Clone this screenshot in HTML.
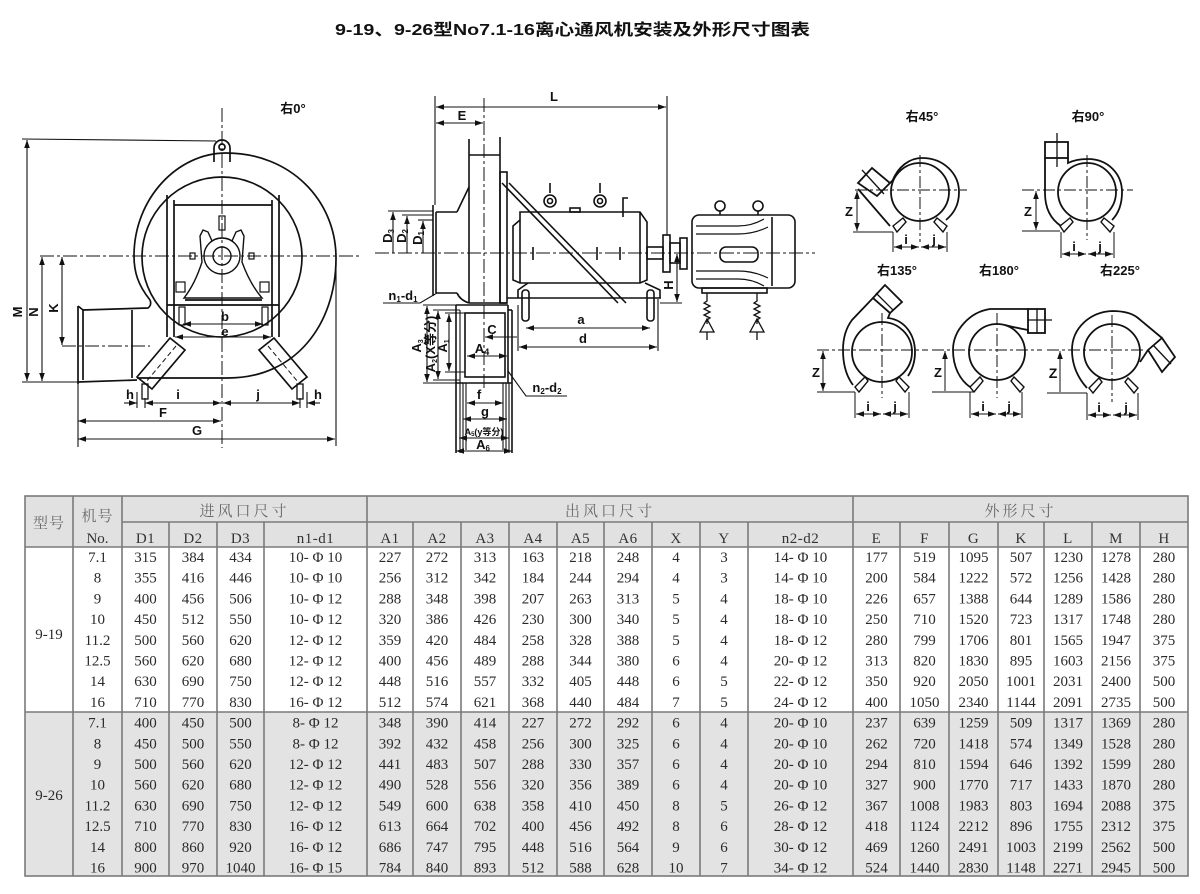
<!DOCTYPE html>
<html><head><meta charset="utf-8">
<style>
html,body{margin:0;padding:0;background:#fff;}
body{width:1200px;height:894px;overflow:hidden;position:relative;}
svg{position:absolute;left:0;top:0;}
.t{font-family:"Liberation Serif","Noto Serif CJK SC",serif;font-size:15px;fill:#2a2a2a;text-anchor:middle;}
.h{font-family:"Liberation Serif","Noto Serif CJK SC",serif;font-size:15px;fill:#333;text-anchor:middle;}
.hc{font-family:"Liberation Serif","Noto Serif CJK SC","Noto Sans CJK SC",serif;font-size:15px;fill:#6a6a6a;text-anchor:middle;}
.lb{font-family:"Liberation Sans","Noto Sans CJK SC",sans-serif;font-weight:bold;font-size:13px;fill:#111;text-anchor:middle;}
.ls{font-family:"Liberation Sans","Noto Sans CJK SC",sans-serif;font-weight:bold;font-size:9px;fill:#111;text-anchor:middle;}
</style></head>
<body>
<svg width="1200" height="894" viewBox="0 0 1200 894" xmlns="http://www.w3.org/2000/svg">
<defs>
<marker id="a" viewBox="0 0 10 10" refX="10" refY="5" markerWidth="8" markerHeight="8" markerUnits="userSpaceOnUse" orient="auto-start-reverse"><path d="M0,1.5 L10,5 L0,8.5 z" fill="#111"/></marker>
</defs>

<!-- TITLE -->
<text x="335" y="35" font-family="Liberation Sans, Noto Sans CJK SC, sans-serif" font-weight="bold" font-size="16" fill="#111" textLength="475" lengthAdjust="spacingAndGlyphs">9-19、9-26型No7.1-16离心通风机安装及外形尺寸图表</text>

<!-- ================= LEFT DRAWING ================= -->
<g stroke="#111" fill="none" stroke-width="1.7">
  <!-- outer scroll -->
  <path d="M150,300 C138,285 134,272 134,256 C134,198 178,153 226,153 C290,153 336,200 336,258 C336,325 295,378 228,378 L137,378"/>
  <!-- inner circle -->
  <circle cx="222" cy="257" r="80"/>
  <!-- outlet -->
  <path d="M83,310 L148,308 Q152,305 150,300"/>
  <line x1="83" y1="310" x2="83" y2="380"/>
  <line x1="78" y1="306" x2="78" y2="384"/>
  <line x1="78" y1="306" x2="83" y2="310"/>
  <line x1="132" y1="310" x2="132" y2="378"/>
  <line x1="78" y1="382" x2="137" y2="380"/>
  <!-- lug -->
  <path d="M214,162 L214,148 A8,8 0 0 1 230,148 L230,162"/>
  <circle cx="222" cy="147" r="3"/>
  <!-- frame -->
  <line x1="167" y1="195" x2="167" y2="337"/>
  <line x1="174" y1="200" x2="174" y2="337"/>
  <line x1="272" y1="200" x2="272" y2="337"/>
  <line x1="279" y1="195" x2="279" y2="337"/>
  <line x1="174" y1="205" x2="272" y2="205"/>
  <line x1="167" y1="305" x2="279" y2="305"/>
  <line x1="185" y1="300" x2="262" y2="300"/>
  <!-- pedestal -->
  <path d="M200,236 L203,230 L208,232 L212,241 A18,18 0 0 1 232,241 L236,232 L241,230 L244,236 L242,262 Q250,284 262,298 L184,298 Q195,284 202,262 Z" stroke-width="1.4"/>
  <circle cx="222" cy="256" r="18" stroke-width="1.4"/>
  <circle cx="222" cy="256" r="9" stroke-width="1.4"/>
  <rect x="219" y="216" width="6" height="14" stroke-width="1.2"/>
  <rect x="190" y="253" width="5" height="6" stroke-width="1.2"/>
  <rect x="249" y="253" width="5" height="6" stroke-width="1.2"/>
  <rect x="176" y="282" width="9" height="10" stroke-width="1.2"/>
  <rect x="260" y="282" width="9" height="10" stroke-width="1.2"/>
  <rect x="179" y="307" width="6" height="18" stroke-width="1.2"/>
  <rect x="262" y="307" width="6" height="18" stroke-width="1.2"/>
  <!-- feet -->
  <path d="M170,338 L185,350 L152,389 L137,377 Z"/>
  <path d="M274,338 L259,350 L292,389 L307,377 Z"/>
  <line x1="176" y1="346" x2="146" y2="382" stroke-width="1" stroke-dasharray="5,3"/>
  <line x1="268" y1="346" x2="298" y2="382" stroke-width="1" stroke-dasharray="5,3"/>
  <rect x="142" y="384" width="6" height="15" stroke-width="1.3"/>
  <rect x="297" y="384" width="6" height="15" stroke-width="1.3"/>
</g>
<!-- left centre lines -->
<g stroke="#111" stroke-width="1" fill="none" stroke-dasharray="14,3,3,3">
  <line x1="222" y1="108" x2="222" y2="448"/>
  <line x1="40" y1="256" x2="362" y2="256"/>
  <line x1="62" y1="346" x2="150" y2="346"/>
</g>
<!-- left dimensions -->
<g stroke="#111" stroke-width="1.1" fill="none">
  <line x1="22" y1="139" x2="216" y2="141"/>
  <line x1="22" y1="382" x2="80" y2="382"/>
  <line x1="27" y1="140" x2="27" y2="381" marker-start="url(#a)" marker-end="url(#a)"/>
  <line x1="42" y1="257" x2="42" y2="381" marker-start="url(#a)" marker-end="url(#a)"/>
  <line x1="62" y1="257" x2="62" y2="345" marker-start="url(#a)" marker-end="url(#a)"/>
  <line x1="78" y1="384" x2="78" y2="447"/>
  <line x1="336" y1="258" x2="336" y2="446"/>
  <line x1="137" y1="392" x2="137" y2="408"/>
  <line x1="145" y1="398" x2="145" y2="408"/>
  <line x1="300" y1="398" x2="300" y2="408"/>
  <line x1="307" y1="392" x2="307" y2="408"/>
  <line x1="124" y1="403" x2="137" y2="403" marker-end="url(#a)"/>
  <line x1="145" y1="403" x2="221" y2="403" marker-start="url(#a)" marker-end="url(#a)"/>
  <line x1="223" y1="403" x2="300" y2="403" marker-start="url(#a)" marker-end="url(#a)"/>
  <line x1="320" y1="403" x2="307" y2="403" marker-end="url(#a)"/>
  <line x1="78" y1="421" x2="221" y2="421" marker-start="url(#a)" marker-end="url(#a)"/>
  <line x1="78" y1="439" x2="335" y2="439" marker-start="url(#a)" marker-end="url(#a)"/>
  <line x1="183" y1="324" x2="263" y2="324" marker-start="url(#a)" marker-end="url(#a)"/>
  <line x1="175" y1="337" x2="271" y2="337" marker-start="url(#a)" marker-end="url(#a)"/>
</g>
<text class="lb" x="293" y="113">右0°</text>
<text class="lb" transform="translate(22,312) rotate(-90)" font-size="11">M</text>
<text class="lb" transform="translate(38,312) rotate(-90)" font-size="11">N</text>
<text class="lb" transform="translate(58,308) rotate(-90)" font-size="11">K</text>
<text class="lb" x="130" y="399">h</text>
<text class="lb" x="178" y="399">i</text>
<text class="lb" x="258" y="399">j</text>
<text class="lb" x="318" y="399">h</text>
<text class="lb" x="163" y="417">F</text>
<text class="lb" x="197" y="435">G</text>
<text class="lb" x="225" y="321" font-size="12">b</text>
<text class="lb" x="225" y="336" font-size="11">e</text>

<!-- ================= MIDDLE DRAWING ================= -->
<g stroke="#111" fill="none" stroke-width="1.6">
  <!-- inlet flange / inlet -->
  <line x1="433" y1="205" x2="433" y2="296"/>
  <line x1="436" y1="212" x2="436" y2="293"/>
  <line x1="436" y1="212" x2="457" y2="212"/>
  <line x1="436" y1="293" x2="457" y2="293"/>
  <path d="M457,212 L469,187"/>
  <path d="M457,293 Q460,300 469,303"/>
  <!-- casing -->
  <line x1="469" y1="139" x2="469" y2="303"/>
  <line x1="500" y1="137" x2="500" y2="303"/>
  <line x1="469" y1="155" x2="500" y2="155"/>
  <rect x="500" y="172" width="7" height="131"/>
  <line x1="469" y1="303" x2="507" y2="303"/>
  <!-- brace -->
  <line x1="502" y1="183" x2="618" y2="303"/>
  <line x1="509" y1="183" x2="626" y2="303"/>
  <!-- bearing box -->
  <path d="M513,226 L520,220 L520,212 L640,212 L647,222 L647,280 L640,283 L520,283 L513,280 Z"/>
  <line x1="520" y1="220" x2="520" y2="283"/>
  <line x1="640" y1="212" x2="640" y2="283"/>
  <rect x="570" y="208" width="10" height="4"/>
  <circle cx="550" cy="201" r="6"/>
  <circle cx="600" cy="201" r="6"/>
  <circle cx="550" cy="201" r="2.5"/>
  <circle cx="600" cy="201" r="2.5"/>
  <line x1="550" y1="183" x2="550" y2="193"/>
  <line x1="600" y1="183" x2="600" y2="193"/>
  <path d="M623,217 L623,198 L628,198"/>
  <path d="M518,298 L518,290 L528,283 M660,298 L660,290 L645,283"/>
  <line x1="507" y1="298" x2="661" y2="298"/>
  <rect x="522" y="290" width="7" height="31" rx="3"/>
  <rect x="647" y="290" width="7" height="31" rx="3"/>
  <!-- shaft & coupling -->
  <rect x="647" y="247" width="16" height="12"/>
  <rect x="663" y="235" width="7" height="37"/>
  <rect x="670" y="243" width="10" height="20"/>
  <rect x="680" y="238" width="7" height="31"/>
  <line x1="533" y1="247" x2="533" y2="260"/>
  <line x1="597" y1="247" x2="597" y2="260"/>
  <line x1="620" y1="247" x2="620" y2="260"/>
  <!-- motor -->
  <rect x="692" y="215" width="103" height="73" rx="7"/>
  <line x1="772" y1="217" x2="772" y2="286"/>
  <rect x="720" y="247" width="38" height="15" rx="6"/>
  <path d="M696,226 H738 Q752,226 764,219 M696,234 H738 Q754,234 768,227 M696,279 H738 Q752,279 764,286 M696,271 H738 Q754,271 768,278" stroke-width="1.2"/>
  <circle cx="720" cy="206" r="5"/>
  <circle cx="758" cy="206" r="5"/>
  <line x1="720" y1="211" x2="720" y2="215"/>
  <line x1="758" y1="211" x2="758" y2="215"/>
  <rect x="702" y="288" width="65" height="5"/>
  <path d="M707,293 v8 l-3,2 l6,3 l-6,3 l6,3 l-6,3 l6,3 l-3,2 v4 M700,332 L707,319 L714,332 Z M707,332 v8" stroke-width="1.3"/>
  <path d="M757,293 v8 l-3,2 l6,3 l-6,3 l6,3 l-6,3 l6,3 l-3,2 v4 M750,332 L757,319 L764,332 Z M757,332 v8" stroke-width="1.3"/>
  <!-- outlet box -->
  <line x1="456" y1="305" x2="508" y2="305"/>
  <rect x="465" y="313" width="40" height="64"/>
  <line x1="456" y1="383" x2="512" y2="383"/>
  <line x1="456" y1="305" x2="456" y2="453"/>
  <line x1="460" y1="310" x2="460" y2="453" stroke-width="1.1"/>
  <line x1="463" y1="383" x2="463" y2="453" stroke-width="1.1"/>
  <line x1="466" y1="383" x2="466" y2="450" stroke-width="1.1"/>
  <line x1="508" y1="305" x2="508" y2="383"/>
  <line x1="503" y1="383" x2="503" y2="450" stroke-width="1.1"/>
  <line x1="506" y1="383" x2="506" y2="453" stroke-width="1.1"/>
  <line x1="509" y1="383" x2="509" y2="453" stroke-width="1.1"/>
  <line x1="512" y1="310" x2="512" y2="453"/>
  <line x1="508" y1="310" x2="512" y2="310"/>
</g>
<g stroke="#111" stroke-width="1" fill="none" stroke-dasharray="14,3,3,3">
  <line x1="375" y1="253" x2="815" y2="253"/>
  <line x1="484" y1="98" x2="484" y2="390"/>
</g>
<g stroke="#111" stroke-width="1.1" fill="none">
  <line x1="435" y1="96" x2="435" y2="205"/>
  <line x1="667" y1="96" x2="667" y2="235"/>
  <line x1="436" y1="107" x2="666" y2="107" marker-start="url(#a)" marker-end="url(#a)"/>
  <line x1="436" y1="123" x2="483" y2="123" marker-start="url(#a)" marker-end="url(#a)"/>
  <line x1="388" y1="211" x2="433" y2="211"/>
  <line x1="402" y1="215" x2="433" y2="215"/>
  <line x1="418" y1="220" x2="433" y2="220"/>
  <line x1="393" y1="212" x2="393" y2="253" marker-start="url(#a)"/>
  <line x1="407" y1="216" x2="407" y2="253" marker-start="url(#a)"/>
  <line x1="423" y1="221" x2="423" y2="253" marker-start="url(#a)"/>
  <path d="M437,293 L420,303 L383,303"/>
  <line x1="660" y1="303" x2="682" y2="303"/>
  <line x1="677" y1="254" x2="677" y2="302" marker-start="url(#a)" marker-end="url(#a)"/>
  <line x1="518" y1="305" x2="518" y2="351"/>
  <line x1="658" y1="299" x2="658" y2="351"/>
  <line x1="526" y1="328" x2="650" y2="328" marker-start="url(#a)" marker-end="url(#a)"/>
  <line x1="519" y1="347" x2="657" y2="347" marker-start="url(#a)" marker-end="url(#a)"/>
  <line x1="485" y1="337" x2="517" y2="337" marker-start="url(#a)"/>
  <line x1="423" y1="305" x2="456" y2="305"/>
  <line x1="423" y1="383" x2="456" y2="383"/>
  <line x1="433" y1="310" x2="460" y2="310"/>
  <line x1="433" y1="380" x2="460" y2="380"/>
  <line x1="445" y1="313" x2="465" y2="313"/>
  <line x1="445" y1="372" x2="465" y2="372"/>
  <line x1="427" y1="306" x2="427" y2="382" marker-start="url(#a)" marker-end="url(#a)"/>
  <line x1="438" y1="311" x2="438" y2="379" marker-start="url(#a)" marker-end="url(#a)"/>
  <line x1="449" y1="314" x2="449" y2="371" marker-start="url(#a)" marker-end="url(#a)"/>
  <line x1="467" y1="356" x2="507" y2="356" marker-start="url(#a)" marker-end="url(#a)"/>
  <path d="M508,371 L526,396 L567,396"/>
  <line x1="467" y1="403" x2="503" y2="403" marker-start="url(#a)" marker-end="url(#a)"/>
  <line x1="463" y1="419" x2="507" y2="419" marker-start="url(#a)" marker-end="url(#a)"/>
  <line x1="459" y1="438" x2="509" y2="438" marker-start="url(#a)" marker-end="url(#a)"/>
  <line x1="456" y1="451" x2="512" y2="451" marker-start="url(#a)" marker-end="url(#a)"/>
</g>
<text class="lb" x="554" y="101">L</text>
<text class="lb" x="462" y="120">E</text>
<text class="lb" transform="translate(392,236) rotate(-90)" font-size="11">D<tspan font-size="8" dy="2">3</tspan></text>
<text class="lb" transform="translate(406,236) rotate(-90)" font-size="11">D<tspan font-size="8" dy="2">2</tspan></text>
<text class="lb" transform="translate(422,238) rotate(-90)" font-size="11">D<tspan font-size="8" dy="2">1</tspan></text>
<text class="lb" x="403" y="300" font-size="12">n<tspan font-size="8" dy="2">1</tspan><tspan dy="-2">-d</tspan><tspan font-size="8" dy="2">1</tspan></text>
<text class="lb" transform="translate(673,285) rotate(-90)" font-size="11">H</text>
<text class="lb" x="581" y="324">a</text>
<text class="lb" x="583" y="343">d</text>
<text class="lb" x="492" y="334">C</text>
<text class="lb" x="482" y="353">A<tspan font-size="9" dy="2">4</tspan></text>
<text class="lb" x="547" y="392" font-size="12">n<tspan font-size="8" dy="2">2</tspan><tspan dy="-2">-d</tspan><tspan font-size="8" dy="2">2</tspan></text>
<text class="lb" transform="translate(421,346) rotate(-90)" font-size="10">A<tspan font-size="7" dy="2">3</tspan></text>
<text class="lb" transform="translate(435,344) rotate(-90)" font-size="9">A<tspan font-size="7" dy="2">2</tspan><tspan dy="-2">(X等分)</tspan></text>
<text class="lb" transform="translate(447,346) rotate(-90)" font-size="10">A<tspan font-size="7" dy="2">1</tspan></text>
<text class="lb" x="479" y="399">f</text>
<text class="lb" x="485" y="416">g</text>
<text class="ls" x="484" y="435">A<tspan font-size="6" dy="1">5</tspan><tspan dy="-1">(y等分)</tspan></text>
<text class="lb" x="483" y="449" font-size="12">A<tspan font-size="8" dy="2">6</tspan></text>

<!-- ================= RIGHT SMALL DRAWINGS ================= -->
<g stroke="#111" fill="none" stroke-width="1.8">
  <!-- 45 -->
  <circle cx="920" cy="192" r="29"/>
  <path d="M892,182 C898,166 910,158 922,158 C944,158 959,174 959,192 C959,206 953,214 946,220"/>
  <path d="M858,189 L890,226"/>
  <path d="M858,183 L872,168 L890,183 L877,196 Z"/>
  <line x1="862" y1="170" x2="884" y2="194" stroke-width="1.3"/>
  <path d="M890,183 L893,180" />
  <path d="M893,226 L903,218 L906,222 L897,232 Z" stroke-width="1.4"/>
  <path d="M947,226 L937,218 L934,222 L943,232 Z" stroke-width="1.4"/>
  <!-- 90 -->
  <circle cx="1087" cy="192" r="29"/>
  <rect x="1045" y="142" width="23" height="16"/>
  <path d="M1045,158 L1045,193 C1045,210 1052,220 1061,226"/>
  <path d="M1068,158 L1068,163 C1074,160 1080,159 1088,159 C1108,159 1122,174 1122,192 C1122,205 1118,214 1112,220"/>
  <path d="M1060,226 L1070,218 L1073,222 L1064,232 Z" stroke-width="1.4"/>
  <path d="M1114,226 L1104,218 L1101,222 L1110,232 Z" stroke-width="1.4"/>
  <!-- 135 -->
  <circle cx="882" cy="352" r="30"/>
  <path d="M873,298 L852,320 C846,328 843,338 843,350 C843,365 847,377 853,385"/>
  <path d="M890,313 L888,318 C905,320 915,335 915,352 C915,362 912,370 908,376"/>
  <path d="M873,298 L885,285 L902,302 L890,313 Z"/>
  <line x1="876" y1="293" x2="893" y2="310" stroke-width="1.3"/>
  <path d="M855,387 L865,377 L868,381 L859,392 Z" stroke-width="1.4"/>
  <path d="M909,387 L899,377 L896,381 L905,392 Z" stroke-width="1.4"/>
  <!-- 180 -->
  <circle cx="997" cy="352" r="28"/>
  <path d="M1028,309 L990,309 C970,312 953,330 953,350 C953,367 960,380 970,387"/>
  <rect x="1028" y="309" width="17" height="24"/>
  <path d="M1028,333 L1028,330 C1018,328 1012,327 1005,325"/>
  <path d="M970,387 L980,377 L983,381 L974,392 Z" stroke-width="1.4"/>
  <path d="M1024,387 L1014,377 L1011,381 L1020,392 Z" stroke-width="1.4"/>
  <!-- 225 -->
  <circle cx="1112" cy="352" r="28"/>
  <path d="M1087,388 C1078,378 1072,366 1072,350 C1072,328 1090,312 1112,311 C1124,311 1132,313 1138,318 L1162,338"/>
  <path d="M1148,350 L1162,338 L1175,357 L1162,372 Z"/>
  <path d="M1148,350 L1140,362"/>
  <line x1="1153" y1="345" x2="1171" y2="364" stroke-width="1.3"/>
  <path d="M1089,388 L1099,378 L1102,382 L1093,393 Z" stroke-width="1.4"/>
  <path d="M1138,388 L1128,378 L1125,382 L1134,393 Z" stroke-width="1.4"/>
</g>
<g stroke="#111" fill="none" stroke-width="1" stroke-dasharray="12,3,3,3">
  <line x1="855" y1="190" x2="967" y2="190"/>
  <line x1="920" y1="155" x2="920" y2="242"/>
  <line x1="1022" y1="190" x2="1133" y2="190"/>
  <line x1="1087" y1="155" x2="1087" y2="240"/>
  <line x1="817" y1="350" x2="928" y2="350"/>
  <line x1="882" y1="313" x2="882" y2="398"/>
  <line x1="932" y1="350" x2="1042" y2="350"/>
  <line x1="997" y1="313" x2="997" y2="398"/>
  <line x1="1047" y1="350" x2="1143" y2="350"/>
  <line x1="1112" y1="315" x2="1112" y2="402"/>
</g>
<g stroke="#111" fill="none" stroke-width="1">
  <line x1="1057" y1="133" x2="1057" y2="167" stroke-width="1.3"/>
  <line x1="1037" y1="309" x2="1037" y2="333" stroke-width="1.3"/>
  <line x1="1028" y1="320" x2="1052" y2="320" stroke-width="1.3"/>
  <!-- 45 dims -->
  <line x1="853" y1="232" x2="893" y2="232"/>
  <line x1="857" y1="191" x2="857" y2="231" marker-start="url(#a)" marker-end="url(#a)"/>
  <line x1="893" y1="232" x2="893" y2="252"/>
  <line x1="947" y1="232" x2="947" y2="252"/>
  <line x1="894" y1="247" x2="919" y2="247" marker-start="url(#a)" marker-end="url(#a)"/>
  <line x1="921" y1="247" x2="946" y2="247" marker-start="url(#a)" marker-end="url(#a)"/>
  <!-- 90 dims -->
  <line x1="1022" y1="231" x2="1060" y2="231"/>
  <line x1="1036" y1="191" x2="1036" y2="230" marker-start="url(#a)" marker-end="url(#a)"/>
  <line x1="1061" y1="232" x2="1061" y2="258"/>
  <line x1="1114" y1="232" x2="1114" y2="258"/>
  <line x1="1062" y1="254" x2="1086" y2="254" marker-start="url(#a)" marker-end="url(#a)"/>
  <line x1="1088" y1="254" x2="1113" y2="254" marker-start="url(#a)" marker-end="url(#a)"/>
  <!-- 135 dims -->
  <line x1="817" y1="392" x2="855" y2="392"/>
  <line x1="823" y1="351" x2="823" y2="391" marker-start="url(#a)" marker-end="url(#a)"/>
  <line x1="855" y1="392" x2="855" y2="418"/>
  <line x1="909" y1="392" x2="909" y2="418"/>
  <line x1="856" y1="414" x2="881" y2="414" marker-start="url(#a)" marker-end="url(#a)"/>
  <line x1="883" y1="414" x2="908" y2="414" marker-start="url(#a)" marker-end="url(#a)"/>
  <!-- 180 dims -->
  <line x1="932" y1="392" x2="973" y2="392"/>
  <line x1="945" y1="351" x2="945" y2="391" marker-start="url(#a)"/>
  <line x1="970" y1="392" x2="970" y2="418"/>
  <line x1="1022" y1="392" x2="1022" y2="418"/>
  <line x1="971" y1="414" x2="996" y2="414" marker-start="url(#a)" marker-end="url(#a)"/>
  <line x1="998" y1="414" x2="1021" y2="414" marker-start="url(#a)" marker-end="url(#a)"/>
  <!-- 225 dims -->
  <line x1="1047" y1="393" x2="1087" y2="393"/>
  <line x1="1060" y1="351" x2="1060" y2="392" marker-start="url(#a)"/>
  <line x1="1087" y1="393" x2="1087" y2="420"/>
  <line x1="1138" y1="393" x2="1138" y2="420"/>
  <line x1="1088" y1="415" x2="1111" y2="415" marker-start="url(#a)" marker-end="url(#a)"/>
  <line x1="1113" y1="415" x2="1137" y2="415" marker-start="url(#a)" marker-end="url(#a)"/>
</g>
<text class="lb" x="922" y="121">右45°</text>
<text class="lb" x="1088" y="121">右90°</text>
<text class="lb" x="897" y="275">右135°</text>
<text class="lb" x="999" y="275">右180°</text>
<text class="lb" x="1120" y="275">右225°</text>
<g class="lb" font-size="12">
<text x="849" y="216">Z</text><text x="906" y="244">i</text><text x="934" y="244">j</text>
<text x="1028" y="216">Z</text><text x="1074" y="251">i</text><text x="1100" y="251">j</text>
<text x="816" y="377">Z</text><text x="868" y="411">i</text><text x="895" y="411">j</text>
<text x="938" y="377">Z</text><text x="983" y="411">i</text><text x="1009" y="411">j</text>
<text x="1053" y="378" font-size="14">Z</text><text x="1099" y="412">i</text><text x="1126" y="412">j</text>
</g>

<!-- ================= TABLE ================= -->
<rect x="25" y="496" width="1163" height="51" fill="#e1e1e1"/>
<rect x="25" y="712" width="1163" height="164" fill="#e3e3e3"/>
<g stroke="#7a7a7a" stroke-width="1.6" fill="none">
  <rect x="25" y="496" width="1163" height="380"/>
  <line x1="122" y1="522" x2="1188" y2="522"/>
  <line x1="25" y1="547" x2="1188" y2="547"/>
  <line x1="25" y1="712" x2="1188" y2="712"/>
  <line x1="73" y1="496" x2="73" y2="876"/>
  <line x1="122" y1="496" x2="122" y2="876"/>
  <line x1="367" y1="496" x2="367" y2="876"/>
  <line x1="853" y1="496" x2="853" y2="876"/>
  <line x1="169" y1="522" x2="169" y2="876"/>
  <line x1="217" y1="522" x2="217" y2="876"/>
  <line x1="264" y1="522" x2="264" y2="876"/>
  <line x1="413" y1="522" x2="413" y2="876"/>
  <line x1="461" y1="522" x2="461" y2="876"/>
  <line x1="509" y1="522" x2="509" y2="876"/>
  <line x1="557" y1="522" x2="557" y2="876"/>
  <line x1="604" y1="522" x2="604" y2="876"/>
  <line x1="652" y1="522" x2="652" y2="876"/>
  <line x1="700" y1="522" x2="700" y2="876"/>
  <line x1="748" y1="522" x2="748" y2="876"/>
  <line x1="900" y1="522" x2="900" y2="876"/>
  <line x1="949" y1="522" x2="949" y2="876"/>
  <line x1="998" y1="522" x2="998" y2="876"/>
  <line x1="1044" y1="522" x2="1044" y2="876"/>
  <line x1="1092" y1="522" x2="1092" y2="876"/>
  <line x1="1140" y1="522" x2="1140" y2="876"/>
</g>
<text class="hc" x="49" y="528" letter-spacing="1">型号</text>
<text class="hc" x="97.5" y="521" letter-spacing="1">机号</text>
<text class="h" x="97.5" y="543" font-size="14">No.</text>
<text class="hc" x="244.5" y="516" letter-spacing="3">进风口尺寸</text>
<text class="hc" x="610" y="516" letter-spacing="3">出风口尺寸</text>
<text class="hc" x="1020.5" y="516" letter-spacing="3">外形尺寸</text>
<text class="h" y="543" letter-spacing="0.5"><tspan x="145.5">D1</tspan><tspan x="193">D2</tspan><tspan x="240.5">D3</tspan><tspan x="315.5">n1-d1</tspan><tspan x="390">A1</tspan><tspan x="437">A2</tspan><tspan x="485">A3</tspan><tspan x="533">A4</tspan><tspan x="580.5">A5</tspan><tspan x="628">A6</tspan><tspan x="676">X</tspan><tspan x="724">Y</tspan><tspan x="800.5">n2-d2</tspan><tspan x="876.5">E</tspan><tspan x="924.5">F</tspan><tspan x="973.5">G</tspan><tspan x="1021">K</tspan><tspan x="1068">L</tspan><tspan x="1116">M</tspan><tspan x="1164">H</tspan></text>

<text class="t" x="49" y="639">9-19</text>
<text class="t" x="49" y="800">9-26</text>

<text class="t" y="562"><tspan x="97.5">7.1</tspan><tspan x="145.5">315</tspan><tspan x="193">384</tspan><tspan x="240.5">434</tspan><tspan x="315.5">10- Φ 10</tspan><tspan x="390">227</tspan><tspan x="437">272</tspan><tspan x="485">313</tspan><tspan x="533">163</tspan><tspan x="580.5">218</tspan><tspan x="628">248</tspan><tspan x="676">4</tspan><tspan x="724">3</tspan><tspan x="800.5">14- Φ 10</tspan><tspan x="876.5">177</tspan><tspan x="924.5">519</tspan><tspan x="973.5">1095</tspan><tspan x="1021">507</tspan><tspan x="1068">1230</tspan><tspan x="1116">1278</tspan><tspan x="1164">280</tspan></text>
<text class="t" y="582.7"><tspan x="97.5">8</tspan><tspan x="145.5">355</tspan><tspan x="193">416</tspan><tspan x="240.5">446</tspan><tspan x="315.5">10- Φ 10</tspan><tspan x="390">256</tspan><tspan x="437">312</tspan><tspan x="485">342</tspan><tspan x="533">184</tspan><tspan x="580.5">244</tspan><tspan x="628">294</tspan><tspan x="676">4</tspan><tspan x="724">3</tspan><tspan x="800.5">14- Φ 10</tspan><tspan x="876.5">200</tspan><tspan x="924.5">584</tspan><tspan x="973.5">1222</tspan><tspan x="1021">572</tspan><tspan x="1068">1256</tspan><tspan x="1116">1428</tspan><tspan x="1164">280</tspan></text>
<text class="t" y="603.4"><tspan x="97.5">9</tspan><tspan x="145.5">400</tspan><tspan x="193">456</tspan><tspan x="240.5">506</tspan><tspan x="315.5">10- Φ 12</tspan><tspan x="390">288</tspan><tspan x="437">348</tspan><tspan x="485">398</tspan><tspan x="533">207</tspan><tspan x="580.5">263</tspan><tspan x="628">313</tspan><tspan x="676">5</tspan><tspan x="724">4</tspan><tspan x="800.5">18- Φ 10</tspan><tspan x="876.5">226</tspan><tspan x="924.5">657</tspan><tspan x="973.5">1388</tspan><tspan x="1021">644</tspan><tspan x="1068">1289</tspan><tspan x="1116">1586</tspan><tspan x="1164">280</tspan></text>
<text class="t" y="624.1"><tspan x="97.5">10</tspan><tspan x="145.5">450</tspan><tspan x="193">512</tspan><tspan x="240.5">550</tspan><tspan x="315.5">10- Φ 12</tspan><tspan x="390">320</tspan><tspan x="437">386</tspan><tspan x="485">426</tspan><tspan x="533">230</tspan><tspan x="580.5">300</tspan><tspan x="628">340</tspan><tspan x="676">5</tspan><tspan x="724">4</tspan><tspan x="800.5">18- Φ 10</tspan><tspan x="876.5">250</tspan><tspan x="924.5">710</tspan><tspan x="973.5">1520</tspan><tspan x="1021">723</tspan><tspan x="1068">1317</tspan><tspan x="1116">1748</tspan><tspan x="1164">280</tspan></text>
<text class="t" y="644.8"><tspan x="97.5">11.2</tspan><tspan x="145.5">500</tspan><tspan x="193">560</tspan><tspan x="240.5">620</tspan><tspan x="315.5">12- Φ 12</tspan><tspan x="390">359</tspan><tspan x="437">420</tspan><tspan x="485">484</tspan><tspan x="533">258</tspan><tspan x="580.5">328</tspan><tspan x="628">388</tspan><tspan x="676">5</tspan><tspan x="724">4</tspan><tspan x="800.5">18- Φ 12</tspan><tspan x="876.5">280</tspan><tspan x="924.5">799</tspan><tspan x="973.5">1706</tspan><tspan x="1021">801</tspan><tspan x="1068">1565</tspan><tspan x="1116">1947</tspan><tspan x="1164">375</tspan></text>
<text class="t" y="665.5"><tspan x="97.5">12.5</tspan><tspan x="145.5">560</tspan><tspan x="193">620</tspan><tspan x="240.5">680</tspan><tspan x="315.5">12- Φ 12</tspan><tspan x="390">400</tspan><tspan x="437">456</tspan><tspan x="485">489</tspan><tspan x="533">288</tspan><tspan x="580.5">344</tspan><tspan x="628">380</tspan><tspan x="676">6</tspan><tspan x="724">4</tspan><tspan x="800.5">20- Φ 12</tspan><tspan x="876.5">313</tspan><tspan x="924.5">820</tspan><tspan x="973.5">1830</tspan><tspan x="1021">895</tspan><tspan x="1068">1603</tspan><tspan x="1116">2156</tspan><tspan x="1164">375</tspan></text>
<text class="t" y="686.2"><tspan x="97.5">14</tspan><tspan x="145.5">630</tspan><tspan x="193">690</tspan><tspan x="240.5">750</tspan><tspan x="315.5">12- Φ 12</tspan><tspan x="390">448</tspan><tspan x="437">516</tspan><tspan x="485">557</tspan><tspan x="533">332</tspan><tspan x="580.5">405</tspan><tspan x="628">448</tspan><tspan x="676">6</tspan><tspan x="724">5</tspan><tspan x="800.5">22- Φ 12</tspan><tspan x="876.5">350</tspan><tspan x="924.5">920</tspan><tspan x="973.5">2050</tspan><tspan x="1021">1001</tspan><tspan x="1068">2031</tspan><tspan x="1116">2400</tspan><tspan x="1164">500</tspan></text>
<text class="t" y="706.9"><tspan x="97.5">16</tspan><tspan x="145.5">710</tspan><tspan x="193">770</tspan><tspan x="240.5">830</tspan><tspan x="315.5">16- Φ 12</tspan><tspan x="390">512</tspan><tspan x="437">574</tspan><tspan x="485">621</tspan><tspan x="533">368</tspan><tspan x="580.5">440</tspan><tspan x="628">484</tspan><tspan x="676">7</tspan><tspan x="724">5</tspan><tspan x="800.5">24- Φ 12</tspan><tspan x="876.5">400</tspan><tspan x="924.5">1050</tspan><tspan x="973.5">2340</tspan><tspan x="1021">1144</tspan><tspan x="1068">2091</tspan><tspan x="1116">2735</tspan><tspan x="1164">500</tspan></text>

<text class="t" y="727.6"><tspan x="97.5">7.1</tspan><tspan x="145.5">400</tspan><tspan x="193">450</tspan><tspan x="240.5">500</tspan><tspan x="315.5">8- Φ 12</tspan><tspan x="390">348</tspan><tspan x="437">390</tspan><tspan x="485">414</tspan><tspan x="533">227</tspan><tspan x="580.5">272</tspan><tspan x="628">292</tspan><tspan x="676">6</tspan><tspan x="724">4</tspan><tspan x="800.5">20- Φ 10</tspan><tspan x="876.5">237</tspan><tspan x="924.5">639</tspan><tspan x="973.5">1259</tspan><tspan x="1021">509</tspan><tspan x="1068">1317</tspan><tspan x="1116">1369</tspan><tspan x="1164">280</tspan></text>
<text class="t" y="748.3"><tspan x="97.5">8</tspan><tspan x="145.5">450</tspan><tspan x="193">500</tspan><tspan x="240.5">550</tspan><tspan x="315.5">8- Φ 12</tspan><tspan x="390">392</tspan><tspan x="437">432</tspan><tspan x="485">458</tspan><tspan x="533">256</tspan><tspan x="580.5">300</tspan><tspan x="628">325</tspan><tspan x="676">6</tspan><tspan x="724">4</tspan><tspan x="800.5">20- Φ 10</tspan><tspan x="876.5">262</tspan><tspan x="924.5">720</tspan><tspan x="973.5">1418</tspan><tspan x="1021">574</tspan><tspan x="1068">1349</tspan><tspan x="1116">1528</tspan><tspan x="1164">280</tspan></text>
<text class="t" y="769"><tspan x="97.5">9</tspan><tspan x="145.5">500</tspan><tspan x="193">560</tspan><tspan x="240.5">620</tspan><tspan x="315.5">12- Φ 12</tspan><tspan x="390">441</tspan><tspan x="437">483</tspan><tspan x="485">507</tspan><tspan x="533">288</tspan><tspan x="580.5">330</tspan><tspan x="628">357</tspan><tspan x="676">6</tspan><tspan x="724">4</tspan><tspan x="800.5">20- Φ 10</tspan><tspan x="876.5">294</tspan><tspan x="924.5">810</tspan><tspan x="973.5">1594</tspan><tspan x="1021">646</tspan><tspan x="1068">1392</tspan><tspan x="1116">1599</tspan><tspan x="1164">280</tspan></text>
<text class="t" y="789.7"><tspan x="97.5">10</tspan><tspan x="145.5">560</tspan><tspan x="193">620</tspan><tspan x="240.5">680</tspan><tspan x="315.5">12- Φ 12</tspan><tspan x="390">490</tspan><tspan x="437">528</tspan><tspan x="485">556</tspan><tspan x="533">320</tspan><tspan x="580.5">356</tspan><tspan x="628">389</tspan><tspan x="676">6</tspan><tspan x="724">4</tspan><tspan x="800.5">20- Φ 10</tspan><tspan x="876.5">327</tspan><tspan x="924.5">900</tspan><tspan x="973.5">1770</tspan><tspan x="1021">717</tspan><tspan x="1068">1433</tspan><tspan x="1116">1870</tspan><tspan x="1164">280</tspan></text>
<text class="t" y="810.4"><tspan x="97.5">11.2</tspan><tspan x="145.5">630</tspan><tspan x="193">690</tspan><tspan x="240.5">750</tspan><tspan x="315.5">12- Φ 12</tspan><tspan x="390">549</tspan><tspan x="437">600</tspan><tspan x="485">638</tspan><tspan x="533">358</tspan><tspan x="580.5">410</tspan><tspan x="628">450</tspan><tspan x="676">8</tspan><tspan x="724">5</tspan><tspan x="800.5">26- Φ 12</tspan><tspan x="876.5">367</tspan><tspan x="924.5">1008</tspan><tspan x="973.5">1983</tspan><tspan x="1021">803</tspan><tspan x="1068">1694</tspan><tspan x="1116">2088</tspan><tspan x="1164">375</tspan></text>
<text class="t" y="831.1"><tspan x="97.5">12.5</tspan><tspan x="145.5">710</tspan><tspan x="193">770</tspan><tspan x="240.5">830</tspan><tspan x="315.5">16- Φ 12</tspan><tspan x="390">613</tspan><tspan x="437">664</tspan><tspan x="485">702</tspan><tspan x="533">400</tspan><tspan x="580.5">456</tspan><tspan x="628">492</tspan><tspan x="676">8</tspan><tspan x="724">6</tspan><tspan x="800.5">28- Φ 12</tspan><tspan x="876.5">418</tspan><tspan x="924.5">1124</tspan><tspan x="973.5">2212</tspan><tspan x="1021">896</tspan><tspan x="1068">1755</tspan><tspan x="1116">2312</tspan><tspan x="1164">375</tspan></text>
<text class="t" y="851.8"><tspan x="97.5">14</tspan><tspan x="145.5">800</tspan><tspan x="193">860</tspan><tspan x="240.5">920</tspan><tspan x="315.5">16- Φ 12</tspan><tspan x="390">686</tspan><tspan x="437">747</tspan><tspan x="485">795</tspan><tspan x="533">448</tspan><tspan x="580.5">516</tspan><tspan x="628">564</tspan><tspan x="676">9</tspan><tspan x="724">6</tspan><tspan x="800.5">30- Φ 12</tspan><tspan x="876.5">469</tspan><tspan x="924.5">1260</tspan><tspan x="973.5">2491</tspan><tspan x="1021">1003</tspan><tspan x="1068">2199</tspan><tspan x="1116">2562</tspan><tspan x="1164">500</tspan></text>
<text class="t" y="872.5"><tspan x="97.5">16</tspan><tspan x="145.5">900</tspan><tspan x="193">970</tspan><tspan x="240.5">1040</tspan><tspan x="315.5">16- Φ 15</tspan><tspan x="390">784</tspan><tspan x="437">840</tspan><tspan x="485">893</tspan><tspan x="533">512</tspan><tspan x="580.5">588</tspan><tspan x="628">628</tspan><tspan x="676">10</tspan><tspan x="724">7</tspan><tspan x="800.5">34- Φ 12</tspan><tspan x="876.5">524</tspan><tspan x="924.5">1440</tspan><tspan x="973.5">2830</tspan><tspan x="1021">1148</tspan><tspan x="1068">2271</tspan><tspan x="1116">2945</tspan><tspan x="1164">500</tspan></text>
</svg>
</body></html>
